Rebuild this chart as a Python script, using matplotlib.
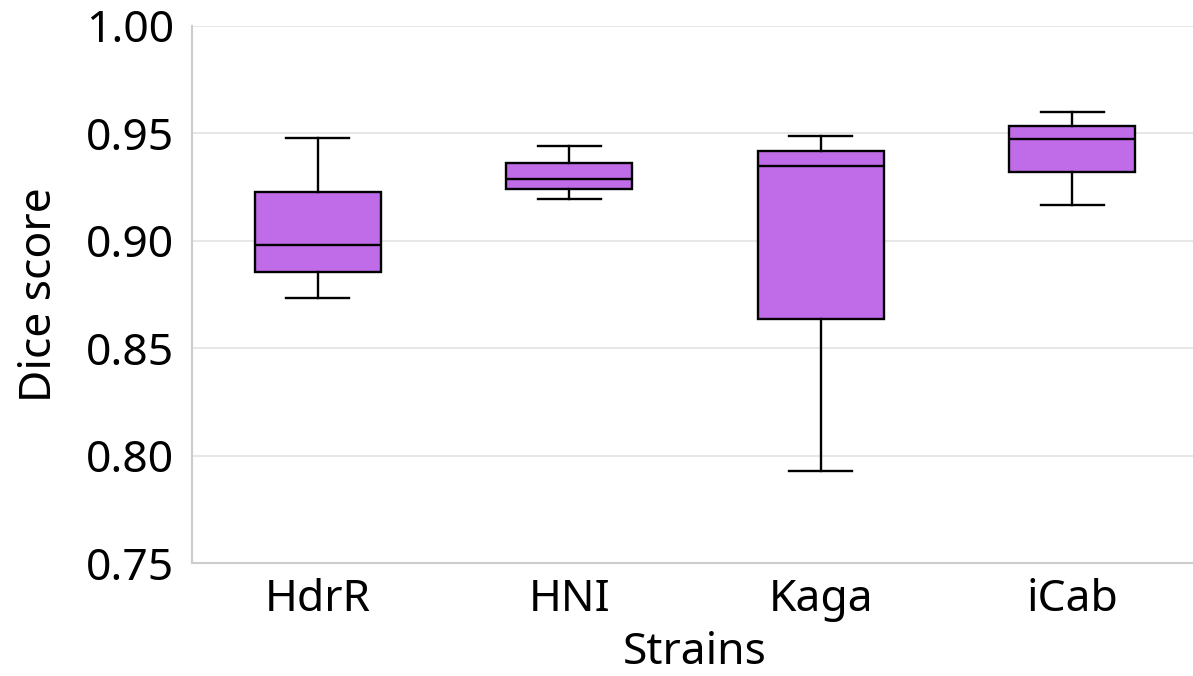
import matplotlib
matplotlib.use("Agg")
import matplotlib.pyplot as plt

plt.rcParams['font.family'] = ['Noto Sans', 'DejaVu Sans']

strains = ["HdrR", "HNI", "Kaga", "iCab"]
whisker_low = [0.8734, 0.9196, 0.7928, 0.9165]
q1 = [0.8855, 0.9241, 0.8636, 0.9322]
median = [0.8980, 0.9288, 0.9347, 0.9473]
q3 = [0.9227, 0.9362, 0.9417, 0.9533]
whisker_high = [0.9479, 0.9441, 0.9488, 0.9598]
y_ticks = [0.75, 0.80, 0.85, 0.90, 0.95, 1.00]

stats = []
for i, name in enumerate(strains):
    stats.append(dict(label=name, whislo=whisker_low[i], q1=q1[i], med=median[i],
                      q3=q3[i], whishi=whisker_high[i], fliers=[]))

fig = plt.figure(figsize=(11.93, 6.76), dpi=100)
W, H = 1193, 676
left, right, top, bottom = 192, 1198, 26, 563
ax = fig.add_axes([left / W, 1 - bottom / H, (right - left) / W, (bottom - top) / H])

fill = "#c06ce8"
lw = 1.7
ax.bxp(stats, positions=range(len(strains)), widths=0.5, patch_artist=True,
       showfliers=False,
       boxprops=dict(facecolor=fill, edgecolor="black", linewidth=lw),
       medianprops=dict(color="black", linewidth=lw),
       whiskerprops=dict(color="black", linewidth=lw),
       capprops=dict(color="black", linewidth=lw),
       capwidths=0.25)

ax.set_xlim(-0.5, len(strains) - 0.5)
ax.set_ylim(0.75, 1.00)
ax.set_yticks(y_ticks)
ax.set_yticklabels([f"{v:.2f}" for v in y_ticks])
ax.set_xticks(range(len(strains)))
ax.set_xticklabels(strains)

ax.grid(axis='y', color="#e3e3e3", linewidth=1.2)
ax.set_axisbelow(True)
for s in ["top", "right"]:
    ax.spines[s].set_visible(False)
for s in ["left", "bottom"]:
    ax.spines[s].set_color("#cccccc")
    ax.spines[s].set_linewidth(1.5)
ax.tick_params(axis='both', length=0, labelsize=32)
ax.tick_params(axis='y', pad=13)
ax.tick_params(axis='x', pad=11)
ax.set_ylabel("Dice score", fontsize=32, labelpad=17)
ax.set_xlabel("Strains", fontsize=32, labelpad=6)

fig.savefig("out.png", dpi=100)
